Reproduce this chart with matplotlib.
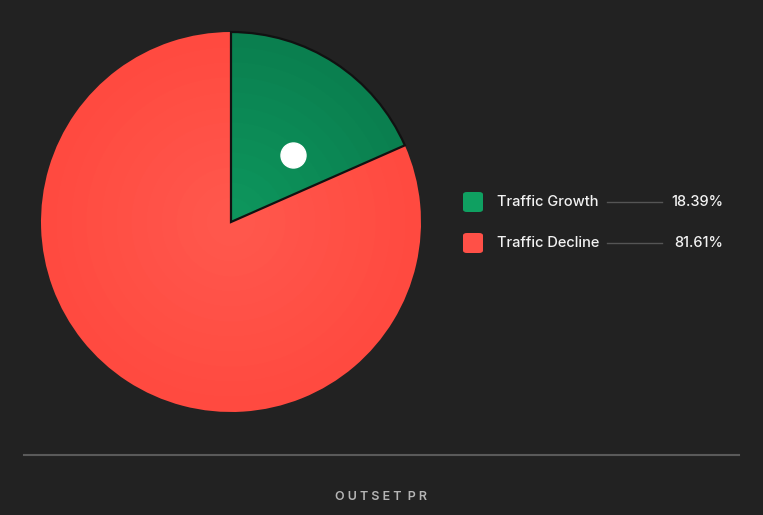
import matplotlib
matplotlib.use("Agg")
import matplotlib.pyplot as plt
from matplotlib.patches import FancyBboxPatch
import numpy as np

labels = ["Traffic Growth", "Traffic Decline"]
values = [18.39, 81.61]
colors_outer = ["#0a7f4f", "#ff4a40"]
colors_inner = ["#0d955c", "#ff574c"]
legend_colors = ["#0fa061", "#ff5047"]

W, H = 763, 515
fig = plt.figure(figsize=(W/100, H/100), dpi=100)
fig.patch.set_facecolor("#222222")

# pie axes: center (231,222), radius 190
r = 190
ax = fig.add_axes([(231-r)/W, 1-(222+r)/H, 2*r/W, 2*r/H])
ax.set_facecolor("none")
n = 12
for i in range(n):
    t = i/(n-1)
    rad = 1 - i*(0.95/n)
    cols = []
    for co, ci in zip(colors_outer, colors_inner):
        a = np.array(matplotlib.colors.to_rgb(co)); b = np.array(matplotlib.colors.to_rgb(ci))
        cols.append(tuple(a*(1-t)+b*t))
    ax.pie(values, colors=cols, startangle=90, counterclock=False, radius=rad,
           wedgeprops=dict(linewidth=0))
# edges for green wedge
ax.pie(values, colors=["none", "none"], startangle=90, counterclock=False, radius=1,
       wedgeprops=dict(linewidth=1.6, edgecolor="#111111"))[0][1].set_edgecolor("none")
ax.set_xlim(-1, 1); ax.set_ylim(-1, 1); ax.set_aspect("equal"); ax.axis("off")
ang = np.deg2rad(47)
ax.plot([0.48*np.cos(ang)], [0.48*np.sin(ang)], "o", ms=18, color="white", mec="white")

# legend
ys = [202, 243]
for lab, val, c, y in zip(labels, values, legend_colors, ys):
    fy = 1 - y/H
    fig.patches.append(FancyBboxPatch((463/W, 1-(y+10)/H), 20/W, 20/H,
                                      boxstyle="round,pad=0,rounding_size=0.005",
                                      transform=fig.transFigure, facecolor=c, edgecolor="none"))
    fig.text(497/W, fy, lab, color="#f2f2f2", fontsize=10.5, family="Inter", fontweight="medium",
             va="center", ha="left")
    fig.add_artist(plt.Line2D([607/W, 662/W], [fy, fy], color="#555555", lw=1, transform=fig.transFigure))
    fig.text(723/W, fy, f"{val:.2f}%", color="#f2f2f2", fontsize=10.5, family="Inter", fontweight="medium",
             va="center", ha="right")

fig.add_artist(plt.Line2D([24/W, 739/W], [1-455/H, 1-455/H], color="#5a5a5a", lw=1.5, transform=fig.transFigure))
fig.text(381/W, 1-497/H, "O U T S E T  P R", color="#b5b5b5", fontsize=9, family="Inter",
         fontweight="semibold", va="center", ha="center")

fig.savefig("out.png", dpi=100, facecolor=fig.get_facecolor())
